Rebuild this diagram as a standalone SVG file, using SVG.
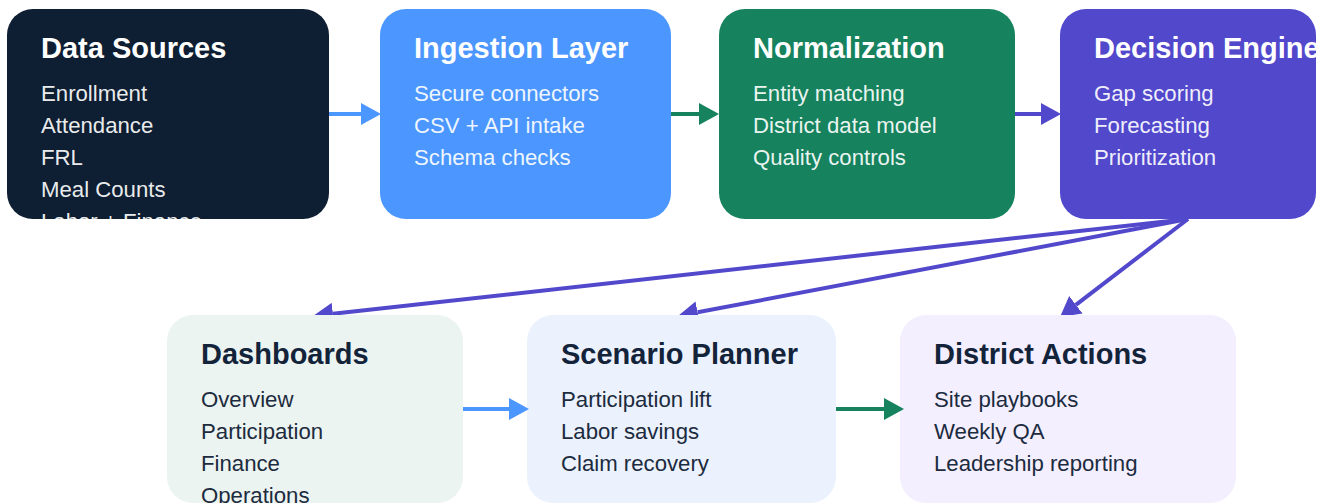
<svg xmlns="http://www.w3.org/2000/svg" width="1318" height="504" viewBox="0 0 1318 504">
<style>
  text { font-family: "Liberation Sans", Arial, sans-serif; }
  .title { font-size: 29px; font-weight: bold; }
  .item { font-size: 22.2px; }
  .dark .title { fill: #ffffff; }
  .dark .item { fill: #ffffff; fill-opacity: 0.93; }
  .light .title { fill: #13233a; }
  .light .item { fill: #1c2b3e; }
  .conn { fill: none; stroke-width: 4; }
  .blue { stroke: #4b97ff; }
  .green { stroke: #16835e; }
  .purple { stroke: #5248cc; }
</style>
<defs>
  <marker id="ah-blue" viewBox="0 0 20 22" refX="0" refY="11" markerWidth="20" markerHeight="22" markerUnits="userSpaceOnUse" orient="auto"><path d="M0,0 L20,11 L0,22 Z" fill="#4b97ff"/></marker>
  <marker id="ah-green" viewBox="0 0 20 22" refX="0" refY="11" markerWidth="20" markerHeight="22" markerUnits="userSpaceOnUse" orient="auto"><path d="M0,0 L20,11 L0,22 Z" fill="#16835e"/></marker>
  <marker id="ah-purple" viewBox="0 0 20 22" refX="0" refY="11" markerWidth="20" markerHeight="22" markerUnits="userSpaceOnUse" orient="auto"><path d="M0,0 L20,11 L0,22 Z" fill="#5248cc"/></marker>
  <clipPath id="c1"><rect x="7" y="9" width="322" height="210" rx="26"/></clipPath>
  <clipPath id="c2"><rect x="380" y="9" width="291" height="210" rx="26"/></clipPath>
  <clipPath id="c3"><rect x="719" y="9" width="296" height="210" rx="26"/></clipPath>
  <clipPath id="c4"><rect x="1060" y="9" width="256" height="210" rx="26"/></clipPath>
  <clipPath id="c5"><rect x="167" y="315" width="296" height="188" rx="26"/></clipPath>
  <clipPath id="c6"><rect x="527" y="315" width="309" height="188" rx="26"/></clipPath>
  <clipPath id="c7"><rect x="900" y="315" width="336" height="188" rx="26"/></clipPath>
</defs>
<rect width="1318" height="504" fill="#ffffff"/>

<g id="connectors">
  <line class="conn blue" x1="329" y1="114" x2="361" y2="114" marker-end="url(#ah-blue)"/>
  <line class="conn green" x1="671" y1="114" x2="699" y2="114" marker-end="url(#ah-green)"/>
  <line class="conn purple" x1="1015" y1="114" x2="1041" y2="114" marker-end="url(#ah-purple)"/>
  <line class="conn purple" x1="1188" y1="219" x2="332.9" y2="313.8" marker-end="url(#ah-purple)"/>
  <line class="conn purple" x1="1188" y1="219" x2="697.6" y2="312.3" marker-end="url(#ah-purple)"/>
  <line class="conn purple" x1="1188" y1="219" x2="1075.9" y2="304.8" marker-end="url(#ah-purple)"/>
</g>

<g id="data-sources" class="dark">
  <rect x="7" y="9" width="322" height="210" rx="26" fill="#0f1f33"/>
  <g clip-path="url(#c1)">
    <text class="title" x="41" y="58">Data Sources</text>
    <text class="item" x="41" y="101">Enrollment</text>
    <text class="item" x="41" y="133">Attendance</text>
    <text class="item" x="41" y="165">FRL</text>
    <text class="item" x="41" y="197">Meal Counts</text>
    <text class="item" x="41" y="229">Labor + Finance</text>
  </g>
</g>

<g id="ingestion-layer" class="dark">
  <rect x="380" y="9" width="291" height="210" rx="26" fill="#4b97ff"/>
  <g clip-path="url(#c2)">
    <text class="title" x="414" y="58">Ingestion Layer</text>
    <text class="item" x="414" y="101">Secure connectors</text>
    <text class="item" x="414" y="133">CSV + API intake</text>
    <text class="item" x="414" y="165">Schema checks</text>
  </g>
</g>

<g id="normalization" class="dark">
  <rect x="719" y="9" width="296" height="210" rx="26" fill="#16835e"/>
  <g clip-path="url(#c3)">
    <text class="title" x="753" y="58">Normalization</text>
    <text class="item" x="753" y="101">Entity matching</text>
    <text class="item" x="753" y="133">District data model</text>
    <text class="item" x="753" y="165">Quality controls</text>
  </g>
</g>

<g id="decision-engine" class="dark">
  <rect x="1060" y="9" width="256" height="210" rx="26" fill="#5248cc"/>
  <g clip-path="url(#c4)">
    <text class="title" x="1094" y="58">Decision Engine</text>
    <text class="item" x="1094" y="101">Gap scoring</text>
    <text class="item" x="1094" y="133">Forecasting</text>
    <text class="item" x="1094" y="165">Prioritization</text>
  </g>
</g>

<g id="dashboards" class="light">
  <rect x="167" y="315" width="296" height="188" rx="26" fill="#ecf4f1"/>
  <g clip-path="url(#c5)">
    <text class="title" x="201" y="364">Dashboards</text>
    <text class="item" x="201" y="407">Overview</text>
    <text class="item" x="201" y="439">Participation</text>
    <text class="item" x="201" y="471">Finance</text>
    <text class="item" x="201" y="503">Operations</text>
  </g>
</g>

<g id="scenario-planner" class="light">
  <rect x="527" y="315" width="309" height="188" rx="26" fill="#ebf2fe"/>
  <g clip-path="url(#c6)">
    <text class="title" x="561" y="364">Scenario Planner</text>
    <text class="item" x="561" y="407">Participation lift</text>
    <text class="item" x="561" y="439">Labor savings</text>
    <text class="item" x="561" y="471">Claim recovery</text>
  </g>
</g>

<g id="district-actions" class="light">
  <rect x="900" y="315" width="336" height="188" rx="26" fill="#f3effe"/>
  <g clip-path="url(#c7)">
    <text class="title" x="934" y="364">District Actions</text>
    <text class="item" x="934" y="407">Site playbooks</text>
    <text class="item" x="934" y="439">Weekly QA</text>
    <text class="item" x="934" y="471">Leadership reporting</text>
  </g>
</g>

<g id="connectors-over">
  <line class="conn blue" x1="463" y1="409" x2="509" y2="409" marker-end="url(#ah-blue)"/>
  <line class="conn green" x1="836" y1="409" x2="884" y2="409" marker-end="url(#ah-green)"/>
</g>
</svg>
